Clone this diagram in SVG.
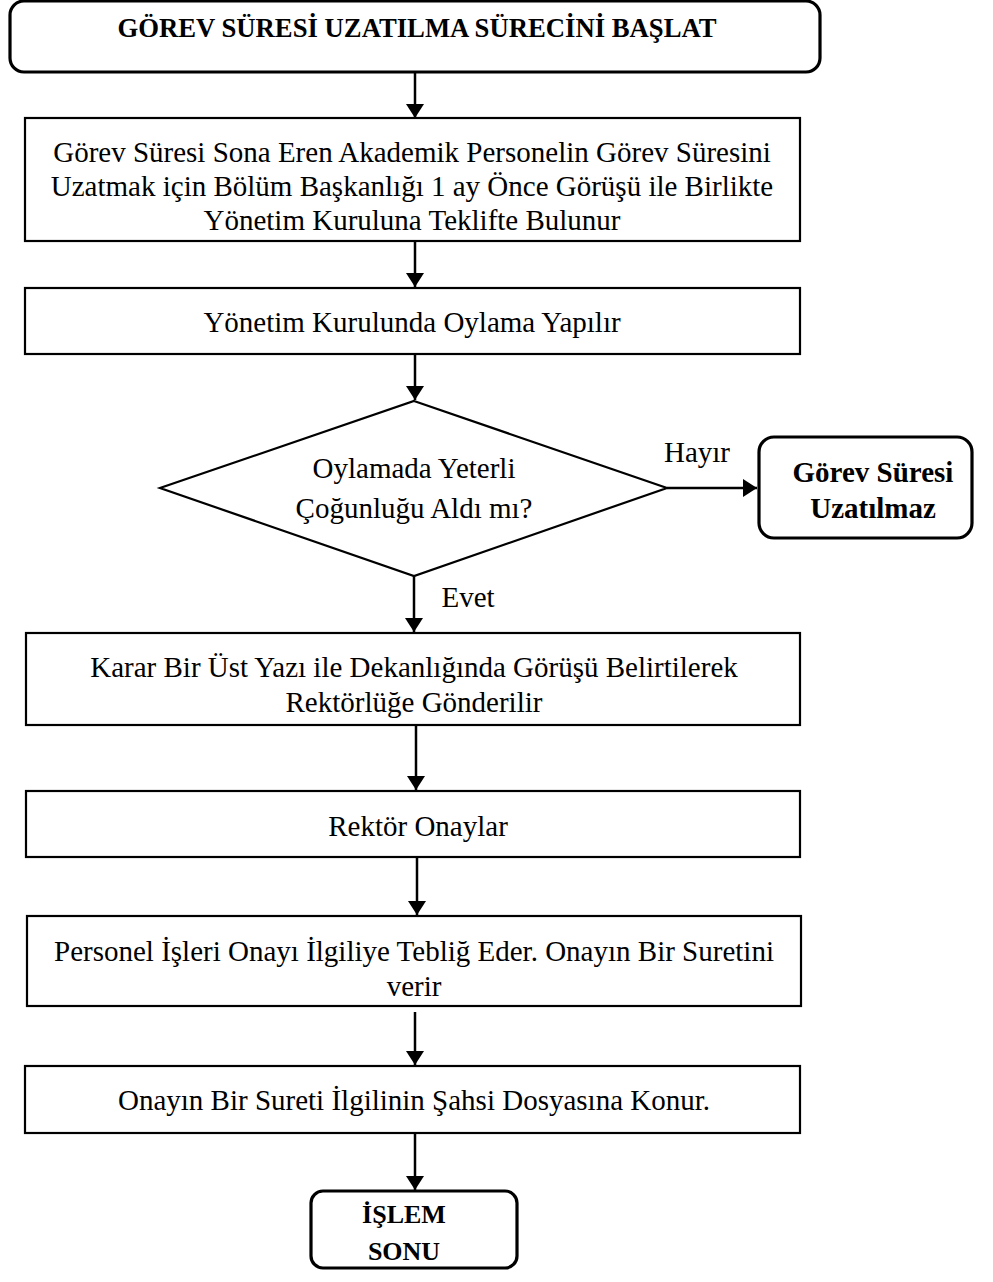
<svg xmlns="http://www.w3.org/2000/svg" width="993" height="1282" viewBox="0 0 993 1282">
  <style>
    .box { fill: #fff; stroke: #000; stroke-width: 2.2; }
    .term { fill: #fff; stroke: #000; stroke-width: 3.2; }
    .t { font-family: 'Liberation Serif', 'Times New Roman', serif; font-size: 29px; fill: #000; text-anchor: middle; }
    .b { font-weight: bold; }
    .title { font-size: 26.7px; }
    .endt { font-size: 26px; }
    .edge { stroke: #000; stroke-width: 2.5; fill: none; }
  </style>
  <defs>
    <marker id="arrow" viewBox="0 0 14 18" refX="14" refY="9" markerWidth="14" markerHeight="18" markerUnits="userSpaceOnUse" orient="auto">
      <path d="M0,0 L14,9 L0,18 Z" fill="#000"/>
    </marker>
  </defs>
  <rect width="993" height="1282" fill="#fff"/>

  <!-- flow arrows and branch labels -->
  <g id="connectors">
    <line class="edge" x1="415" y1="73" x2="415" y2="118" marker-end="url(#arrow)"/>
    <line class="edge" x1="415" y1="241" x2="415" y2="287" marker-end="url(#arrow)"/>
    <line class="edge" x1="415" y1="354" x2="415" y2="400" marker-end="url(#arrow)"/>
    <line class="edge" x1="667" y1="488" x2="757" y2="488" marker-end="url(#arrow)"/>
    <line class="edge" x1="414" y1="576" x2="414" y2="632" marker-end="url(#arrow)"/>
    <line class="edge" x1="416" y1="726" x2="416" y2="790" marker-end="url(#arrow)"/>
    <line class="edge" x1="417" y1="858" x2="417" y2="915" marker-end="url(#arrow)"/>
    <line class="edge" x1="415" y1="1012" x2="415" y2="1065" marker-end="url(#arrow)"/>
    <line class="edge" x1="415" y1="1134" x2="415" y2="1190" marker-end="url(#arrow)"/>
    <text class="t" x="697" y="462">Hayır</text>
    <text class="t" x="468" y="607">Evet</text>
  </g>

  <g id="start">
    <rect class="term" x="10" y="1" width="810" height="71" rx="14"/>
    <text class="t b title" x="417" y="37">GÖREV SÜRESİ UZATILMA SÜRECİNİ BAŞLAT</text>
  </g>

  <g id="proposal">
    <rect class="box" x="25" y="118" width="775" height="123"/>
    <text class="t" x="412" y="162">Görev Süresi Sona Eren Akademik Personelin Görev Süresini</text>
    <text class="t" x="412" y="196">Uzatmak için Bölüm Başkanlığı 1 ay Önce Görüşü ile Birlikte</text>
    <text class="t" x="412" y="230">Yönetim Kuruluna Teklifte Bulunur</text>
  </g>

  <g id="vote">
    <rect class="box" x="25" y="288" width="775" height="66"/>
    <text class="t" x="412" y="332">Yönetim Kurulunda Oylama Yapılır</text>
  </g>

  <g id="decision">
    <polygon class="box" points="414,401 667,488 414,576 160,488"/>
    <text class="t" x="414" y="478">Oylamada Yeterli</text>
    <text class="t" x="414" y="518">Çoğunluğu Aldı mı?</text>
  </g>

  <g id="rejected">
    <rect class="term" x="759" y="437" width="213" height="101" rx="15"/>
    <text class="t b" x="873" y="482">Görev Süresi</text>
    <text class="t b" x="873" y="518">Uzatılmaz</text>
  </g>

  <g id="dean">
    <rect class="box" x="26" y="633" width="774" height="92"/>
    <text class="t" x="414" y="677">Karar Bir Üst Yazı ile Dekanlığında Görüşü Belirtilerek</text>
    <text class="t" x="414" y="712">Rektörlüğe Gönderilir</text>
  </g>

  <g id="rector">
    <rect class="box" x="26" y="791" width="774" height="66"/>
    <text class="t" x="418" y="836">Rektör Onaylar</text>
  </g>

  <g id="notify">
    <rect class="box" x="27" y="916" width="774" height="90"/>
    <text class="t" x="414" y="961">Personel İşleri Onayı İlgiliye Tebliğ Eder. Onayın Bir Suretini</text>
    <text class="t" x="414" y="996">verir</text>
  </g>

  <g id="archive">
    <rect class="box" x="25" y="1066" width="775" height="67"/>
    <text class="t" x="414" y="1110">Onayın Bir Sureti İlgilinin Şahsi Dosyasına Konur.</text>
  </g>

  <g id="end">
    <rect class="term" x="311" y="1191" width="206" height="77" rx="12"/>
    <text class="t b endt" x="404" y="1223">İŞLEM</text>
    <text class="t b endt" x="404" y="1260">SONU</text>
  </g>
</svg>
